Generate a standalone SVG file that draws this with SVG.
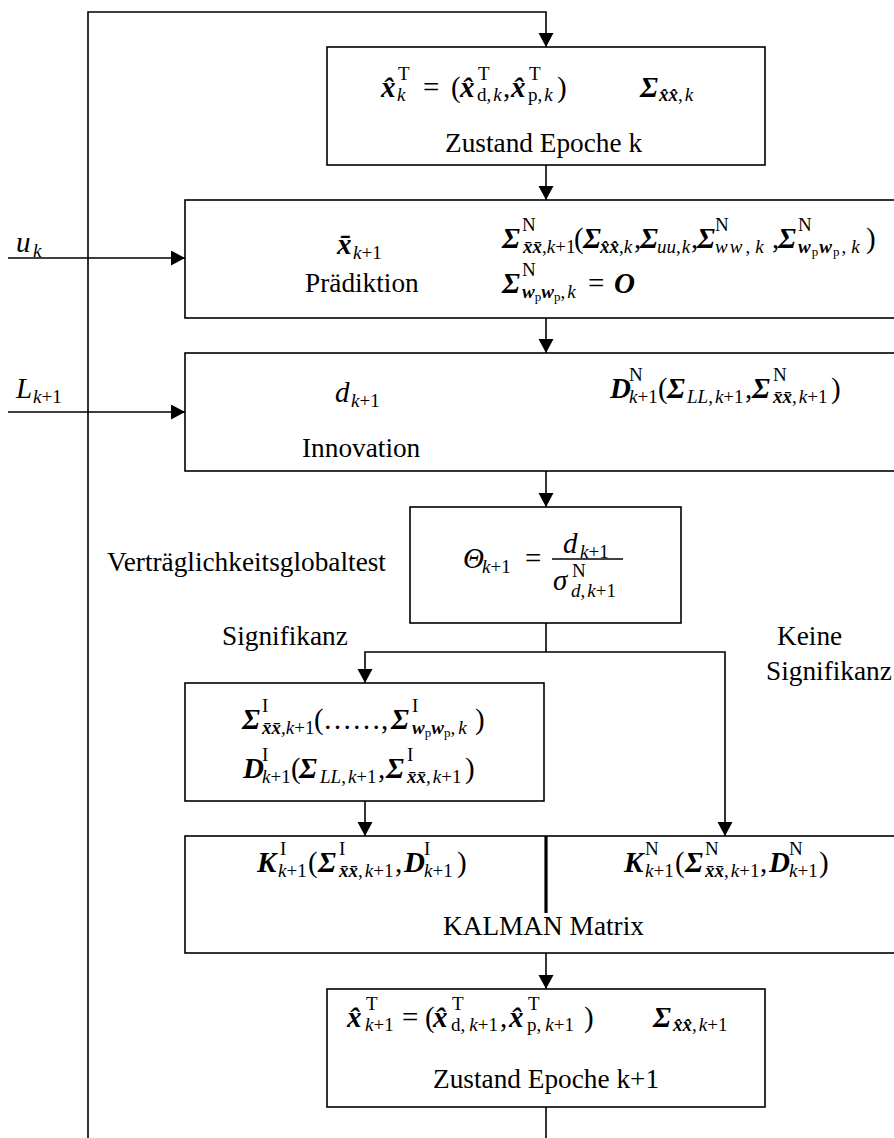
<svg xmlns="http://www.w3.org/2000/svg" width="894" height="1138" viewBox="0 0 894 1138">
<style>
text { font-family: "Liberation Serif", "Times New Roman", serif; fill: #000; }
.lbl { font-size: 27.3px; }
.m { font-size: 29px; }
.s { font-size: 19px; }
.ss { font-size: 13px; }
.bi { font-weight: bold; font-style: italic; }
.it { font-style: italic; }
.box { fill: #fff; stroke: #000; stroke-width: 1.6; }
.con { fill: none; stroke: #000; stroke-width: 1.6; }
.bar { stroke: #000; stroke-width: 1.3; }
.div { stroke: #000; stroke-width: 3.2; }
</style>
<defs>
<marker id="ah" markerUnits="userSpaceOnUse" markerWidth="16" markerHeight="16" refX="14" refY="7.5" orient="auto">
<path d="M0,0 L14,7.5 L0,15 z" fill="#000"/>
</marker>
</defs>
<rect width="894" height="1138" fill="#fff"/>

<!-- connectors -->
<g id="connectors">
<polyline class="con" points="88,1138 88,12 546,12 546,47" marker-end="url(#ah)"/>
<line class="con" x1="546" y1="165" x2="546" y2="200" marker-end="url(#ah)"/>
<line class="con" x1="8" y1="258" x2="185" y2="258" marker-end="url(#ah)"/>
<line class="con" x1="546" y1="318" x2="546" y2="353" marker-end="url(#ah)"/>
<line class="con" x1="8" y1="412" x2="185" y2="412" marker-end="url(#ah)"/>
<line class="con" x1="546" y1="471" x2="546" y2="507" marker-end="url(#ah)"/>
<line class="con" x1="546" y1="623" x2="546" y2="652"/>
<polyline class="con" points="546,652 365,652 365,683" marker-end="url(#ah)"/>
<polyline class="con" points="546,652 725,652 725,836" marker-end="url(#ah)"/>
<line class="con" x1="365" y1="801" x2="365" y2="836" marker-end="url(#ah)"/>
<line class="con" x1="546" y1="953" x2="546" y2="989" marker-end="url(#ah)"/>
<line class="con" x1="546" y1="1107" x2="546" y2="1138"/>
</g>

<!-- inputs -->
<g id="input-u">
<text class="m"><tspan class="it" x="16" y="252">u</tspan><tspan class="s it" x="33" y="257">k</tspan></text>
</g>
<g id="input-L">
<text class="m"><tspan class="it" x="16" y="398">L</tspan><tspan class="s" x="33" y="403"><tspan class="it">k</tspan>+1</tspan></text>
</g>

<!-- state at epoch k -->
<g id="state-k">
<rect class="box" x="327" y="47" width="438" height="118"/>
<text class="m">
<tspan class="bi" x="381" y="97">x&#x302;</tspan>
<tspan class="s" x="398" y="80">T</tspan>
<tspan class="s it" x="397" y="101">k</tspan>
<tspan x="423" y="97">=</tspan>
<tspan x="451" y="97">(</tspan>
<tspan class="bi" x="460" y="97">x&#x302;</tspan>
<tspan class="s" x="478" y="80">T</tspan>
<tspan class="s" x="477" y="101">d,<tspan class="it" dx="2">k</tspan></tspan>
<tspan x="503" y="97">,</tspan>
<tspan class="bi" x="511" y="97">x&#x302;</tspan>
<tspan class="s" x="529" y="80">T</tspan>
<tspan class="s" x="528" y="101">p,<tspan class="it" dx="2">k</tspan></tspan>
<tspan x="557" y="97">)</tspan>
<tspan class="bi" x="640" y="97">Σ</tspan>
<tspan class="s" x="659" y="101"><tspan class="bi">x&#x302;x&#x302;</tspan>,<tspan class="it" dx="2">k</tspan></tspan>
</text>
<text class="lbl" x="445" y="152">Zustand Epoche k</text>
</g>

<!-- prediction -->
<g id="prediction">
<rect class="box" x="185" y="200" width="725" height="118"/>
<text class="m">
<tspan class="bi" x="337" y="254">x&#x304;</tspan>
<tspan class="s" x="353" y="259"><tspan class="it">k</tspan>+1</tspan>
</text>
<text class="lbl" x="305" y="292">Prädiktion</text>
<text class="m">
<tspan class="bi" x="502" y="248">Σ</tspan>
<tspan class="s" x="522" y="231">N</tspan>
<tspan class="s" x="523" y="253"><tspan class="bi">x&#x304;x&#x304;</tspan>,<tspan class="it">k</tspan>+1</tspan>
<tspan x="574" y="248">(</tspan>
<tspan class="bi" x="583" y="248">Σ</tspan>
<tspan class="s" x="600" y="253"><tspan class="bi">x&#x302;x&#x302;</tspan>,<tspan class="it">k</tspan></tspan>
<tspan x="634" y="248">,</tspan>
<tspan class="bi" x="640" y="248">Σ</tspan>
<tspan class="s" x="657" y="253"><tspan class="it">uu</tspan>,<tspan class="it" dx="1">k</tspan></tspan>
<tspan x="691" y="248">,</tspan>
<tspan class="bi" x="697" y="248">Σ</tspan>
<tspan class="s" x="715" y="231">N</tspan>
<tspan class="s" x="715" y="253"><tspan class="it">w<tspan dx="2">w</tspan></tspan><tspan dx="3">,</tspan><tspan class="it" dx="5">k</tspan></tspan>
<tspan x="772" y="248">,</tspan>
<tspan class="bi" x="778" y="248">Σ</tspan>
<tspan class="s" x="798" y="231">N</tspan>
<tspan class="s" x="798" y="253"><tspan class="bi">w</tspan><tspan class="ss" dx="1" dy="3">p</tspan><tspan class="bi" dx="1" dy="-3">w</tspan><tspan class="ss" dx="1" dy="3">p</tspan><tspan dx="2" dy="-3">,</tspan><tspan class="it" dx="5">k</tspan></tspan>
<tspan x="866" y="248">)</tspan>
</text>
<text class="m">
<tspan class="bi" x="502" y="293">Σ</tspan>
<tspan class="s" x="522" y="276">N</tspan>
<tspan class="s" x="522" y="298"><tspan class="bi">w</tspan><tspan class="ss" dy="3">p</tspan><tspan class="bi" dy="-3">w</tspan><tspan class="ss" dy="3">p</tspan><tspan dy="-3">,</tspan><tspan class="it" dx="2">k</tspan></tspan>
<tspan x="588" y="293">=</tspan>
<tspan class="bi" x="614" y="293">O</tspan>
</text>
</g>

<!-- innovation -->
<g id="innovation">
<rect class="box" x="185" y="353" width="725" height="118"/>
<text class="m">
<tspan class="it" x="335" y="402">d</tspan>
<tspan class="s" x="351" y="407"><tspan class="it">k</tspan>+1</tspan>
</text>
<text class="lbl" x="302" y="457">Innovation</text>
<text class="m">
<tspan class="bi" x="610" y="398">D</tspan>
<tspan class="s" x="629" y="381">N</tspan>
<tspan class="s" x="629" y="403"><tspan class="it">k</tspan>+1</tspan>
<tspan x="658" y="398">(</tspan>
<tspan class="bi" x="667" y="398">Σ</tspan>
<tspan class="s" x="687" y="403"><tspan class="it">LL</tspan>,<tspan class="it" dx="2">k</tspan>+1</tspan>
<tspan x="745" y="398">,</tspan>
<tspan class="bi" x="752" y="398">Σ</tspan>
<tspan class="s" x="773" y="381">N</tspan>
<tspan class="s" x="773" y="403"><tspan class="bi">x&#x304;x&#x304;</tspan>,<tspan class="it" dx="2">k</tspan>+1</tspan>
<tspan x="831" y="398">)</tspan>
</text>
</g>

<!-- global test -->
<g id="global-test">
<text class="lbl" x="107" y="571">Verträglichkeitsglobaltest</text>
<rect class="box" x="410" y="507" width="271" height="116"/>
<text class="m">
<tspan class="it" x="463" y="568">Θ</tspan>
<tspan class="s" x="482" y="573"><tspan class="it">k</tspan>+1</tspan>
<tspan x="525" y="568">=</tspan>
<tspan class="it" x="563" y="553">d</tspan>
<tspan class="s" x="580" y="558"><tspan class="it">k</tspan>+1</tspan>
<tspan class="it" x="553" y="590">σ</tspan>
<tspan class="s" x="572" y="577">N</tspan>
<tspan class="s" x="571" y="597"><tspan class="it">d</tspan>,<tspan class="it" dx="2">k</tspan>+1</tspan>
</text>
<line class="bar" x1="552" y1="559" x2="623" y2="559"/>
</g>

<!-- branch labels -->
<g id="branch-labels">
<text class="lbl" x="222" y="645">Signifikanz</text>
<text class="lbl" x="777" y="645">Keine</text>
<text class="lbl" x="766" y="680">Signifikanz</text>
</g>

<!-- significant case -->
<g id="significant">
<rect class="box" x="185" y="683" width="359" height="118"/>
<text class="m">
<tspan class="bi" x="242" y="729">Σ</tspan>
<tspan class="s" x="262" y="712">I</tspan>
<tspan class="s" x="262" y="734"><tspan class="bi">x&#x304;x&#x304;</tspan>,<tspan class="it">k</tspan>+1</tspan>
<tspan x="314" y="729">(</tspan>
<tspan x="323" y="729">……</tspan>
<tspan x="381" y="729">,</tspan>
<tspan class="bi" x="391" y="729">Σ</tspan>
<tspan class="s" x="412" y="712">I</tspan>
<tspan class="s" x="412" y="734"><tspan class="bi">w</tspan><tspan class="ss" dy="3">p</tspan><tspan class="bi" dy="-3">w</tspan><tspan class="ss" dy="3">p</tspan><tspan dy="-3">,</tspan><tspan class="it" dx="3">k</tspan></tspan>
<tspan x="475" y="729">)</tspan>
</text>
<text class="m">
<tspan class="bi" x="243" y="778">D</tspan>
<tspan class="s" x="262" y="761">I</tspan>
<tspan class="s" x="262" y="783"><tspan class="it">k</tspan>+1</tspan>
<tspan x="291" y="778">(</tspan>
<tspan class="bi" x="299" y="778">Σ</tspan>
<tspan class="s" x="320" y="783"><tspan class="it">LL</tspan>,<tspan class="it" dx="2">k</tspan>+1</tspan>
<tspan x="378" y="778">,</tspan>
<tspan class="bi" x="386" y="778">Σ</tspan>
<tspan class="s" x="407" y="761">I</tspan>
<tspan class="s" x="407" y="783"><tspan class="bi">x&#x304;x&#x304;</tspan>,<tspan class="it" dx="2">k</tspan>+1</tspan>
<tspan x="465" y="778">)</tspan>
</text>
</g>

<!-- Kalman gain -->
<g id="kalman">
<rect class="box" x="185" y="836" width="725" height="117"/>
<line class="div" x1="546" y1="836" x2="546" y2="913"/>
<text class="m">
<tspan class="bi" x="257" y="872">K</tspan>
<tspan class="s" x="280" y="855">I</tspan>
<tspan class="s" x="278" y="877"><tspan class="it">k</tspan>+1</tspan>
<tspan x="308" y="872">(</tspan>
<tspan class="bi" x="318" y="872">Σ</tspan>
<tspan class="s" x="339" y="855">I</tspan>
<tspan class="s" x="339" y="877"><tspan class="bi">x&#x304;x&#x304;</tspan>,<tspan class="it" dx="2">k</tspan>+1</tspan>
<tspan x="395" y="872">,</tspan>
<tspan class="bi" x="404" y="872">D</tspan>
<tspan class="s" x="424" y="855">I</tspan>
<tspan class="s" x="424" y="877"><tspan class="it">k</tspan>+1</tspan>
<tspan x="457" y="872">)</tspan>
</text>
<text class="m">
<tspan class="bi" x="624" y="872">K</tspan>
<tspan class="s" x="645" y="855">N</tspan>
<tspan class="s" x="645" y="877"><tspan class="it">k</tspan>+1</tspan>
<tspan x="675" y="872">(</tspan>
<tspan class="bi" x="685" y="872">Σ</tspan>
<tspan class="s" x="705" y="855">N</tspan>
<tspan class="s" x="705" y="877"><tspan class="bi">x&#x304;x&#x304;</tspan>,<tspan class="it" dx="2">k</tspan>+1</tspan>
<tspan x="760" y="872">,</tspan>
<tspan class="bi" x="769" y="872">D</tspan>
<tspan class="s" x="789" y="855">N</tspan>
<tspan class="s" x="789" y="877"><tspan class="it">k</tspan>+1</tspan>
<tspan x="819" y="872">)</tspan>
</text>
<text class="lbl" x="443" y="935">KALMAN Matrix</text>
</g>

<!-- state at epoch k+1 -->
<g id="state-k1">
<rect class="box" x="327" y="989" width="438" height="118"/>
<text class="m">
<tspan class="bi" x="347" y="1027">x&#x302;</tspan>
<tspan class="s" x="366" y="1010">T</tspan>
<tspan class="s" x="365" y="1031"><tspan class="it">k</tspan>+1</tspan>
<tspan x="402" y="1027">=</tspan>
<tspan x="425" y="1027">(</tspan>
<tspan class="bi" x="433" y="1027">x&#x302;</tspan>
<tspan class="s" x="452" y="1010">T</tspan>
<tspan class="s" x="451" y="1031">d,<tspan class="it" dx="4">k</tspan>+1</tspan>
<tspan x="500" y="1027">,</tspan>
<tspan class="bi" x="509" y="1027">x&#x302;</tspan>
<tspan class="s" x="528" y="1010">T</tspan>
<tspan class="s" x="527" y="1031">p,<tspan class="it" dx="4">k</tspan>+1</tspan>
<tspan x="584" y="1027">)</tspan>
<tspan class="bi" x="653" y="1027">Σ</tspan>
<tspan class="s" x="673" y="1031"><tspan class="bi">x&#x302;x&#x302;</tspan>,<tspan class="it" dx="2">k</tspan>+1</tspan>
</text>
<text class="lbl" x="433" y="1088">Zustand Epoche k+1</text>
</g>
</svg>
